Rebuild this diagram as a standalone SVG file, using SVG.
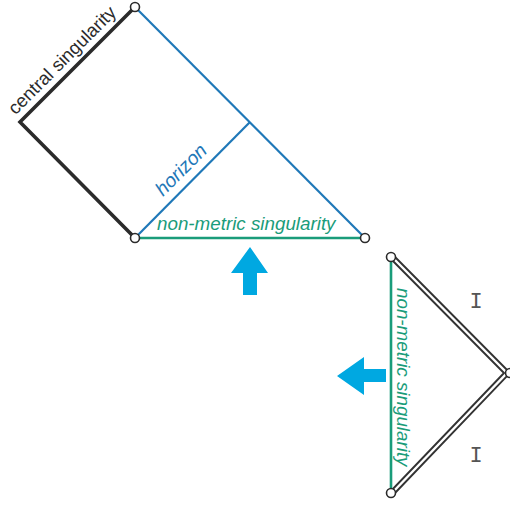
<svg xmlns="http://www.w3.org/2000/svg" width="510" height="506" viewBox="0 0 510 506">
<style>
.lbl{font-family:"Liberation Sans",Arial,sans-serif;font-size:18.8px}
.it{font-style:italic}
.blue{stroke:#1f78b8;stroke-width:2.2;fill:none}
.green{stroke:#1a9c7a;stroke-width:2.6;fill:none}
.black{stroke:#2b2b2b;stroke-width:3.6;fill:none;stroke-linejoin:miter}
.dbl-o{stroke:#333;stroke-width:6.2;fill:none}
.dbl-i{stroke:#fff;stroke-width:2.4;fill:none}
.pt{fill:#fff;stroke:#2b2b2b;stroke-width:1.6}
.arrow{fill:#00a8e1}
.mono{font-family:"Liberation Mono",monospace;font-size:22px;fill:#555}
</style>
<g id="connectors">
<line class="blue" x1="135" y1="7" x2="365" y2="238"/>
<line class="blue" x1="135" y1="238" x2="250" y2="122"/>
<line class="green" x1="135" y1="238" x2="365" y2="238"/>
<polyline class="black" points="135,7 20,122 135,238"/>
<polyline class="dbl-o" points="392,257 507,373 392,493"/>
<polyline class="dbl-i" points="392,257 507,373 392,493"/>
<line class="green" x1="391" y1="257" x2="391" y2="493"/>
</g>
<g id="top-vertex"><circle class="pt" cx="135" cy="7" r="4.5"/></g>
<g id="bottom-left-vertex"><circle class="pt" cx="135" cy="238" r="4.5"/></g>
<g id="right-vertex"><circle class="pt" cx="365" cy="238" r="4.5"/></g>
<g id="right-top-vertex"><circle class="pt" cx="391" cy="257" r="4.5"/></g>
<g id="right-bottom-vertex"><circle class="pt" cx="391" cy="493" r="4.5"/></g>
<g id="right-apex"><circle class="pt" cx="510" cy="373" r="4.5"/></g>
<g id="label-central"><text class="lbl" fill="#2b2b2b" style="font-size:18.5px" transform="translate(15.5,115.5) rotate(-45)">central singularity</text></g>
<g id="label-horizon"><text class="lbl it" fill="#1f78b8" style="font-size:19.5px" transform="translate(163,197) rotate(-45)">horizon</text></g>
<g id="label-nonmetric-top"><text class="lbl it" fill="#1a9c7a" x="157" y="230">non-metric singularity</text></g>
<g id="label-nonmetric-right"><text class="lbl it" fill="#1a9c7a" transform="translate(397,288) rotate(90)">non-metric singularity</text></g>
<g id="arrow-up"><polygon class="arrow" points="250,247 268,273 257,273 257,295 243,295 243,273 231,273"/></g>
<g id="arrow-left"><polygon class="arrow" points="337,376 364,357 364,369 386,369 386,382 364,382 364,395"/></g>
<g id="I-top"><text class="mono" x="476" y="308" text-anchor="middle">I</text></g>
<g id="I-bottom"><text class="mono" x="476" y="461.5" text-anchor="middle">I</text></g>
</svg>
